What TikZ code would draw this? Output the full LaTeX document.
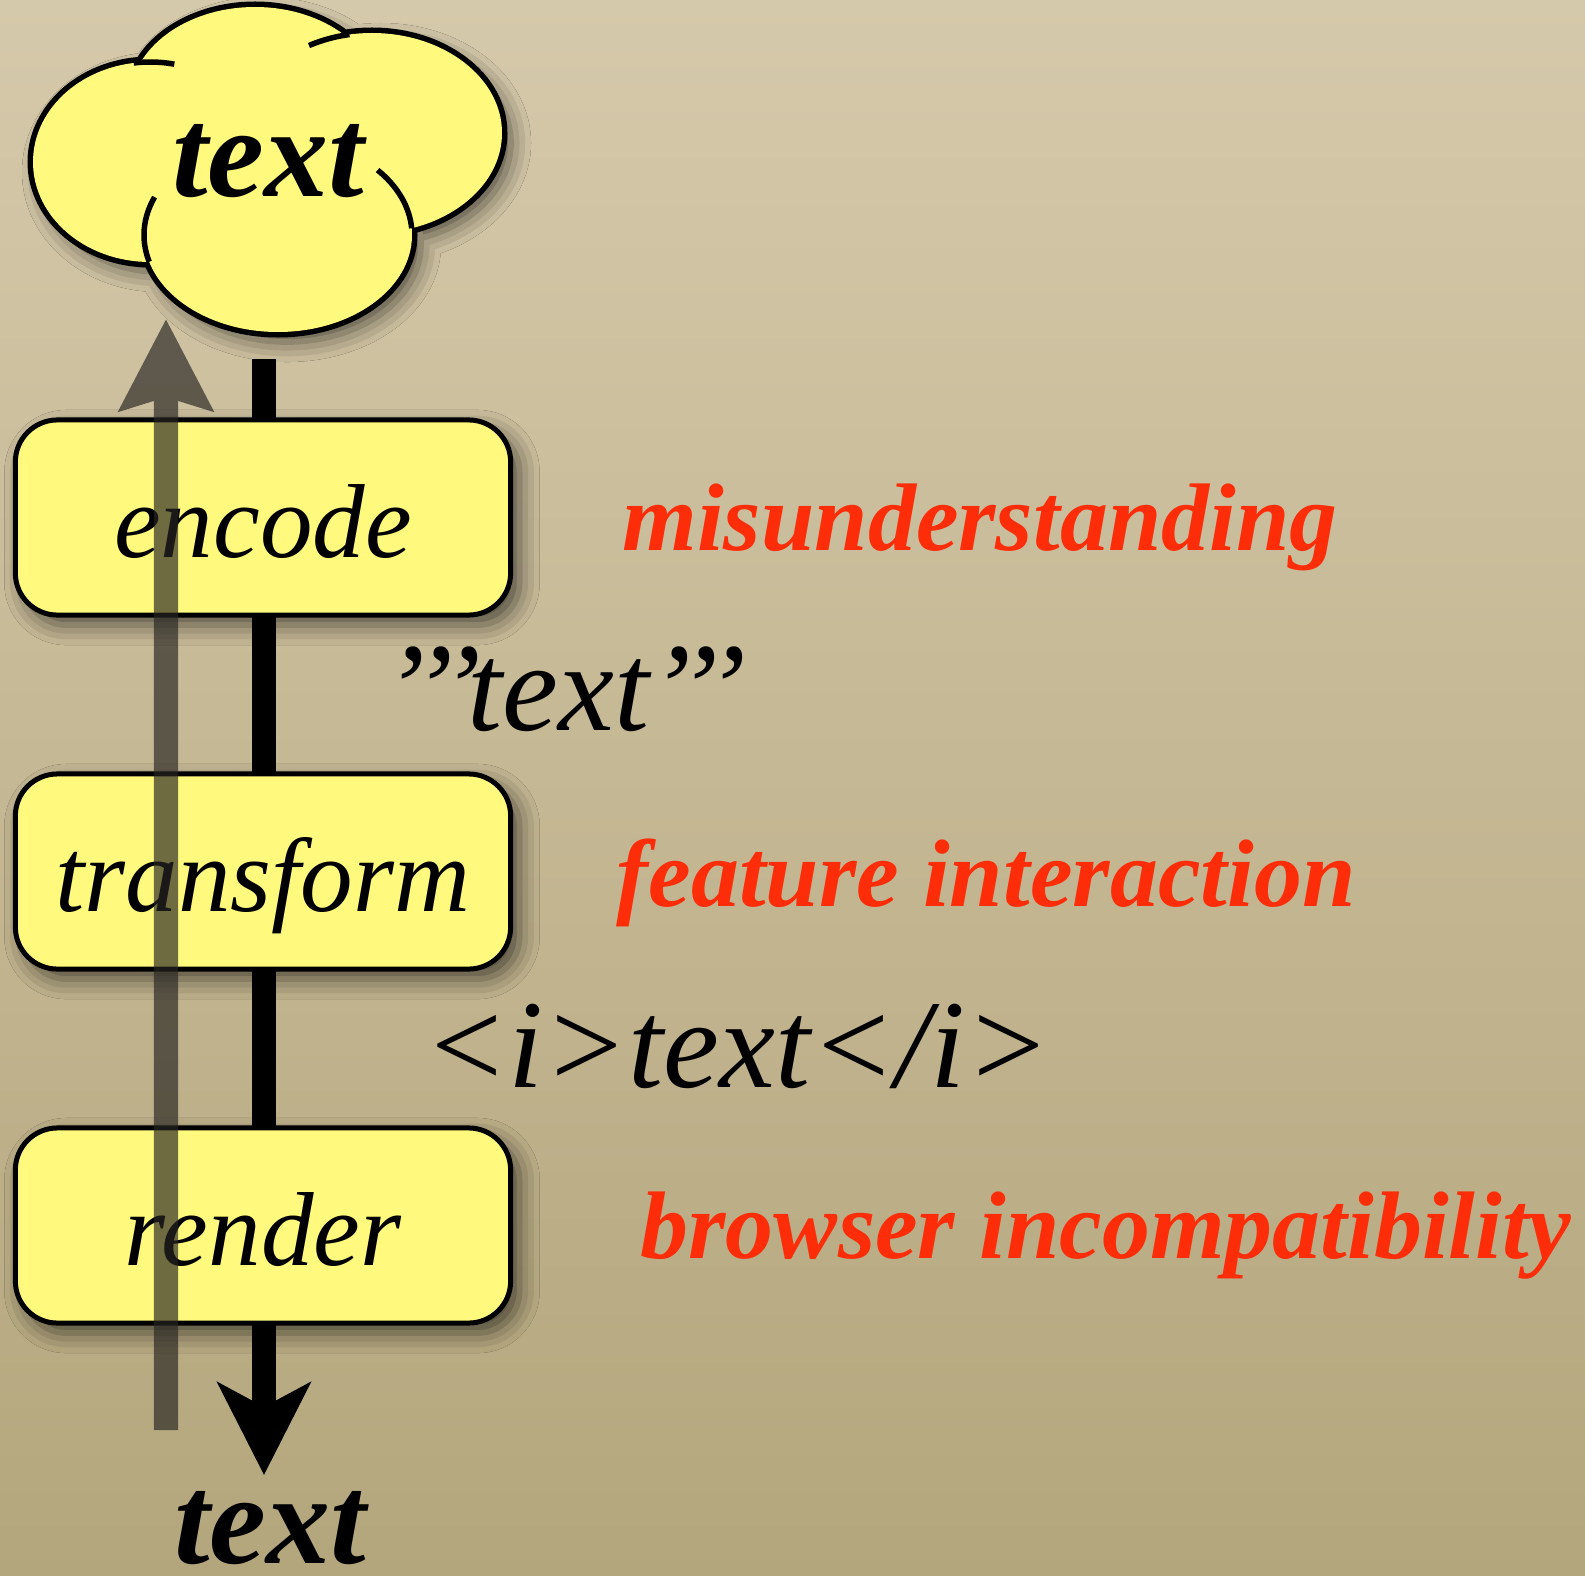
\documentclass[tikz,border=0pt]{standalone}
\usepackage{fontspec}
\setmainfont{Liberation Serif}
\usetikzlibrary{arrows.meta,shadows.blur}
\definecolor{bglight}{RGB}{213,201,171}
\definecolor{bgdark}{RGB}{180,166,124}
\definecolor{boxyellow}{RGB}{255,250,125}
\definecolor{alarm}{RGB}{252,45,8}
\definecolor{ghost}{RGB}{40,38,35}
\tikzset{
 softshadow/.style={blur shadow={shadow xshift=0.09cm,shadow yshift=-0.1cm,shadow blur radius=0.2cm,shadow opacity=60}},
 stage/.style={draw,line width=0.05cm,fill=boxyellow,rounded corners=0.42cm,minimum width=4.95cm,minimum height=1.95cm,inner sep=0pt,text height=0.8cm,text depth=0cm,font=\fontsize{29.9}{34}\selectfont\itshape,softshadow},
 trouble/.style={anchor=base,inner sep=0pt,text=alarm,font=\fontsize{27.3}{32}\selectfont\bfseries\itshape},
 payload/.style={anchor=base,inner sep=0pt,font=\fontsize{35.8}{40}\selectfont\itshape},
 thought/.style={anchor=base,inner sep=0pt,font=\fontsize{36.4}{42}\selectfont\bfseries\itshape},
 flow/.style={line width=0.23cm,-{Stealth[length=0.92cm,width=0.92cm,inset=0.24cm]}},
 backflow/.style={line width=0.24cm,color=ghost,-{Stealth[length=0.91cm,width=0.92cm,inset=0.13cm]}}
}
\begin{document}
\begin{tikzpicture}[x=0.01cm,y=-0.01cm]
 \useasboundingbox (0,0) rectangle (1585,1576);
 \shade[top color=bglight,bottom color=bgdark] (0,0) rectangle (1585,1576);

 \coordinate (downstart) at (264,359);
 \coordinate (downend) at (264,1475);
 \coordinate (upstart) at (166,1430);
 \coordinate (upend) at (166,319);

 \draw[flow] (downstart) -- (downend);

 \node[stage] (encode) at (263,517.5) {encode};
 \node[stage] (transform) at (263,871.5) {transform};
 \node[stage] (render) at (263,1225.5) {render};

 \draw[line width=0.11cm,softshadow] (255,100) ellipse[x radius=125,y radius=93] (150,162) ellipse[x radius=117,y radius=100] (372,133) ellipse[x radius=130,y radius=100] (278,235) ellipse[x radius=134,y radius=97];
 \fill[boxyellow] (255,100) ellipse[x radius=125,y radius=93] (150,162) ellipse[x radius=117,y radius=100] (372,133) ellipse[x radius=130,y radius=100] (278,235) ellipse[x radius=134,y radius=97];
 \draw[line width=0.055cm] (278,235) ++(164:134 and 97) arc[start angle=164,end angle=203,x radius=134,y radius=97];
 \draw[line width=0.055cm] (278,235) ++(318:134 and 97) arc[start angle=318,end angle=356,x radius=134,y radius=97];
 \draw[line width=0.055cm] (372,133) ++(241:130 and 100) arc[start angle=241,end angle=260,x radius=130,y radius=100];
 \draw[line width=0.055cm] (150,162) ++(262:117 and 100) arc[start angle=262,end angle=282,x radius=117,y radius=100];

 \begin{scope}[transparency group,opacity=0.67]
 \draw[backflow] (upstart) -- (upend);
 \end{scope}

 \node[thought] (idea) at (268,197) {text};
 \node[thought] (output) at (270,1563) {text};
 \node[payload] (quoted) at (565,730) {{'}{'}{'}text{'}{'}{'}};
 \node[payload] (tagged) at (737,1087) {<i>text</i>};
 \node[trouble] (misread) at (980,550) {misunderstanding};
 \node[trouble] (clash) at (986,906) {feature interaction};
 \node[trouble] (browsers) at (1106,1258) {browser incompatibility};
\end{tikzpicture}
\end{document}
